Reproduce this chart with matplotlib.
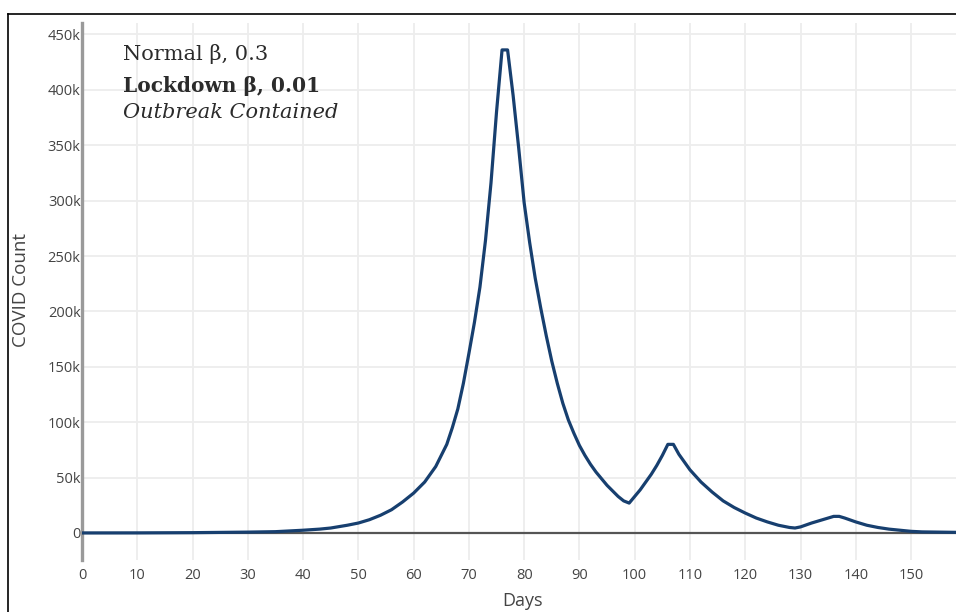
import matplotlib
matplotlib.use("Agg")
import matplotlib.pyplot as plt
from matplotlib.lines import Line2D

days = [0, 10, 20, 30, 35, 40, 43, 45, 48, 50, 52, 54, 56, 58, 60, 62, 64, 66, 67, 68,
        69, 70, 71, 72, 73, 74, 75, 76, 77, 78, 79, 80, 81, 82, 83, 84, 85, 86, 87, 88,
        89, 90, 91, 92, 93, 94, 95, 96, 97, 98, 99, 100, 101, 102, 103, 104, 105, 106, 107, 108,
        109, 110, 112, 114, 116, 118, 120, 122, 124, 126, 128, 129, 130, 132, 134, 136, 137, 138, 140, 142,
        144, 146, 148, 150, 152, 155, 158]
covid_k = [0.05, 0.1, 0.3, 0.8, 1.2, 2.5, 3.5, 4.5, 7, 9, 12, 16, 21, 28, 36, 46, 60, 80, 95, 112,
           135, 162, 190, 222, 264, 316, 380, 436, 436, 395, 348, 298, 262, 230, 203, 178, 155, 135, 117, 102,
           90, 79, 70, 62, 55, 49, 43, 38, 33, 29, 27, 33, 39, 46, 53, 61, 70, 80, 80, 71,
           64, 57, 46, 37, 29, 23, 18, 13.5, 10, 7, 5, 4.5, 5.5, 9, 12, 15, 15, 13.5, 10, 7,
           5, 3.5, 2.5, 1.5, 1.0, 0.8, 0.6]
x_ticks = list(range(0, 151, 10))
y_ticks = [0, 50000, 100000, 150000, 200000, 250000, 300000, 350000, 400000, 450000]
y_tick_labels = ["0", "50k", "100k", "150k", "200k", "250k", "300k", "350k", "400k", "450k"]
notes = ["Normal \u03b2, 0.3", "Lockdown \u03b2, 0.01", "Outbreak Contained"]

W, H = 956, 612
fig = plt.figure(figsize=(W / 100, H / 100), dpi=100)
fig.patch.set_facecolor("white")

left, right, top, bottom = 82, 956, 23, 560
ax = fig.add_axes([left / W, 1 - bottom / H, (right - left) / W, (bottom - top) / H])
ax.set_xlim(0, (right - left) / 5.527)
ypp = 50000 / 55.4
ax.set_ylim(-(bottom - 533) * ypp, (533 - top) * ypp)

values = [v * 1000 for v in covid_k]
ax.plot(days, values, color="#173f6f", lw=2.3, solid_joinstyle="round", zorder=5)

ax.set_xticks(x_ticks)
ax.set_yticks(y_ticks)
ax.set_yticklabels(y_tick_labels)
ax.grid(True, color="#ededed", lw=1.3, zorder=0)
ax.tick_params(axis="both", length=0, labelcolor="#444444", labelsize=10.5)
ax.tick_params(axis="x", pad=6)
ax.tick_params(axis="y", pad=1)
for lab in ax.get_xticklabels() + ax.get_yticklabels():
    lab.set_family("Open Sans")

for s in ["top", "right", "bottom"]:
    ax.spines[s].set_visible(False)
ax.spines["left"].set_color("#9a9a9a")
ax.spines["left"].set_linewidth(2.4)
ax.axhline(0, color="#555555", lw=1.6, zorder=4)

fig.text(522 / W, 1 - 610 / H, "Days", ha="center", va="bottom", fontsize=13,
         color="#444444", family="Open Sans")
fig.text(21 / W, 1 - 290 / H, "COVID Count", ha="center", va="center", rotation=90,
         fontsize=13.5, color="#444444", family="Open Sans")

fig.text(123 / W, 1 - 60 / H, notes[0], ha="left", va="baseline", fontsize=15,
         color="#2b2b2b", family="DejaVu Serif")
fig.text(123 / W, 1 - 91.5 / H, notes[1], ha="left", va="baseline", fontsize=14.5,
         color="#2b2b2b", family="DejaVu Serif", weight="bold")
fig.text(123 / W, 1 - 118 / H, notes[2], ha="left", va="baseline", fontsize=15,
         color="#2b2b2b", family="DejaVu Serif", style="italic")

fig.add_artist(Line2D([8 / W, 8 / W], [0, 1 - 14 / H], transform=fig.transFigure,
                      color="black", lw=1.2))
fig.add_artist(Line2D([8 / W, 1], [1 - 14 / H, 1 - 14 / H], transform=fig.transFigure,
                      color="black", lw=1.2))

fig.savefig("out.png", dpi=100)
